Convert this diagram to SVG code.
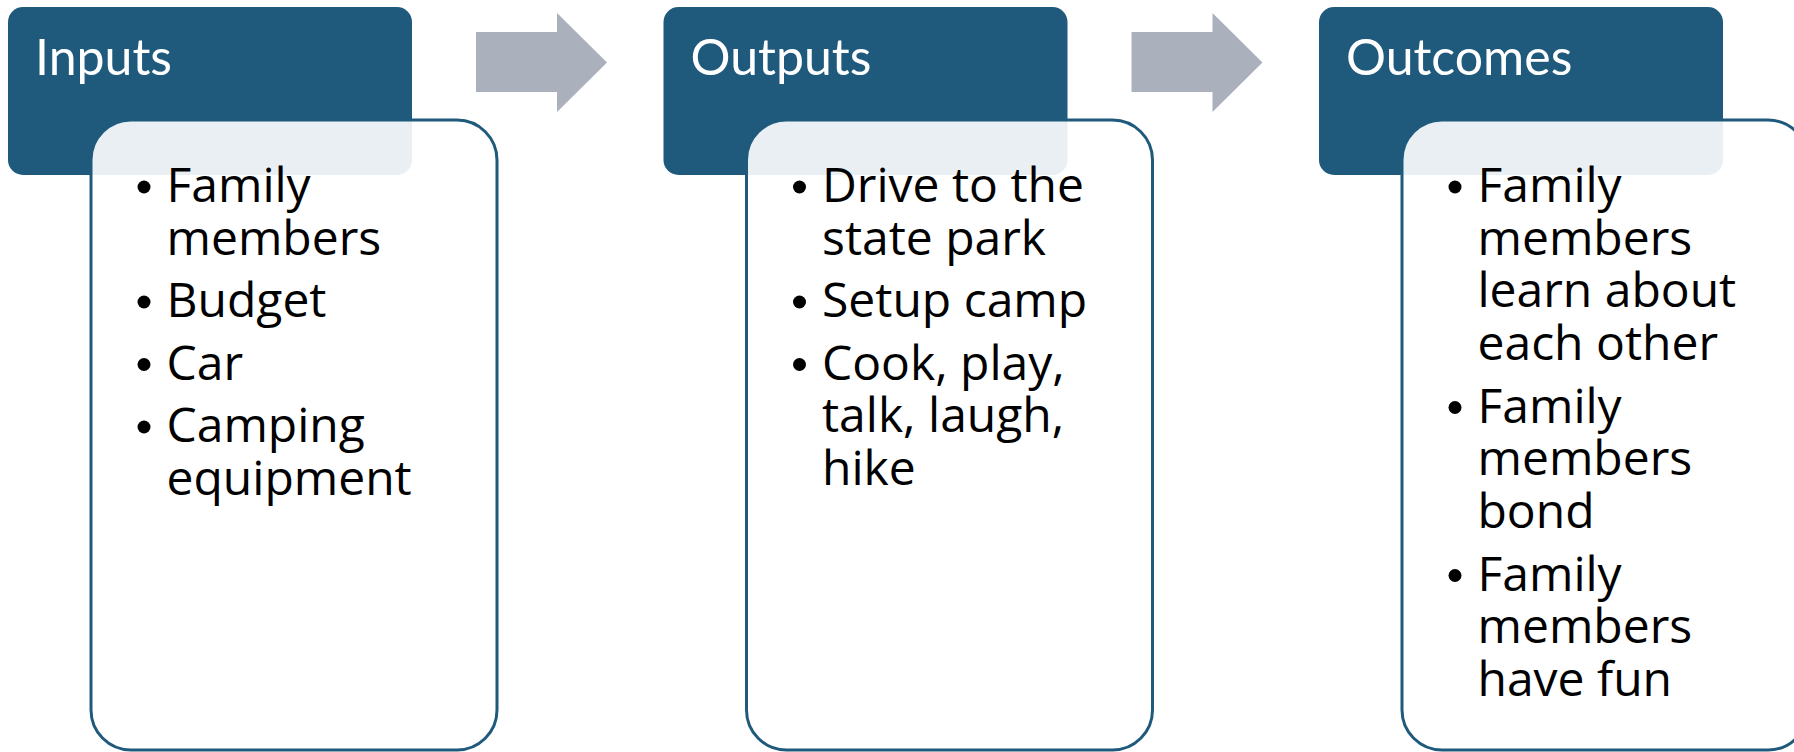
<svg xmlns="http://www.w3.org/2000/svg" width="1794" height="752" viewBox="0 0 1794 752">
  <style>
    .hdr { fill: #1F5A7D; }
    .body { fill: #FFFFFF; fill-opacity: 0.9; stroke: #1F5A7D; stroke-width: 3; }
    .title { font-family: Lato, "Open Sans", "DejaVu Sans", sans-serif; font-size: 50px; fill: #FFFFFF; }
    .item { font-family: "Open Sans", "Noto Sans", "DejaVu Sans", sans-serif; font-size: 48px; fill: #000000; }
    .dot { fill: #000000; }
    .arrow { fill: #AAB1BC; }
  </style>
  <rect width="1794" height="752" fill="#FFFFFF"/>

  <g id="connectors">
    <polygon class="arrow" points="476,32 557,32 557,13 607,62.5 557,112 557,92 476,92"/>
    <polygon class="arrow" points="1131.5,32 1212.5,32 1212.5,13 1262.5,62.5 1212.5,112 1212.5,92 1131.5,92"/>
  </g>

  <g id="inputs">
    <rect class="hdr" x="8" y="7" width="404" height="168" rx="15"/>
    <text class="title" x="35" y="75">Inputs</text>
    <rect class="body" x="91" y="120" width="406" height="630" rx="40"/>
    <circle class="dot" cx="144" cy="187" r="6.5"/>
    <circle class="dot" cx="144" cy="302" r="6.5"/>
    <circle class="dot" cx="144" cy="364.5" r="6.5"/>
    <circle class="dot" cx="144" cy="427" r="6.5"/>
    <text class="item" x="166.5" y="202">Family</text>
    <text class="item" x="166.5" y="254.5">members</text>
    <text class="item" x="166.5" y="317">Budget</text>
    <text class="item" x="166.5" y="379.5">Car</text>
    <text class="item" x="166.5" y="442">Camping</text>
    <text class="item" x="166.5" y="494.5">equipment</text>
  </g>

  <g id="outputs">
    <rect class="hdr" x="663.5" y="7" width="404" height="168" rx="15"/>
    <text class="title" x="690.5" y="75">Outputs</text>
    <rect class="body" x="746.5" y="120" width="406" height="630" rx="40"/>
    <circle class="dot" cx="799.5" cy="187" r="6.5"/>
    <circle class="dot" cx="799.5" cy="302" r="6.5"/>
    <circle class="dot" cx="799.5" cy="364.5" r="6.5"/>
    <text class="item" x="822" y="202">Drive to the</text>
    <text class="item" x="822" y="254.5">state park</text>
    <text class="item" x="822" y="317">Setup camp</text>
    <text class="item" x="822" y="379.5">Cook, play,</text>
    <text class="item" x="822" y="432">talk, laugh,</text>
    <text class="item" x="822" y="484.5">hike</text>
  </g>

  <g id="outcomes">
    <rect class="hdr" x="1319" y="7" width="404" height="168" rx="15"/>
    <text class="title" x="1346" y="75">Outcomes</text>
    <rect class="body" x="1402" y="120" width="406" height="630" rx="40"/>
    <circle class="dot" cx="1455" cy="187" r="6.5"/>
    <circle class="dot" cx="1455" cy="407.5" r="6.5"/>
    <circle class="dot" cx="1455" cy="575.5" r="6.5"/>
    <text class="item" x="1477.5" y="202">Family</text>
    <text class="item" x="1477.5" y="254.5">members</text>
    <text class="item" x="1477.5" y="307">learn about</text>
    <text class="item" x="1477.5" y="359.5">each other</text>
    <text class="item" x="1477.5" y="422.5">Family</text>
    <text class="item" x="1477.5" y="475">members</text>
    <text class="item" x="1477.5" y="527.5">bond</text>
    <text class="item" x="1477.5" y="590.5">Family</text>
    <text class="item" x="1477.5" y="643">members</text>
    <text class="item" x="1477.5" y="695.5">have fun</text>
  </g>
</svg>
